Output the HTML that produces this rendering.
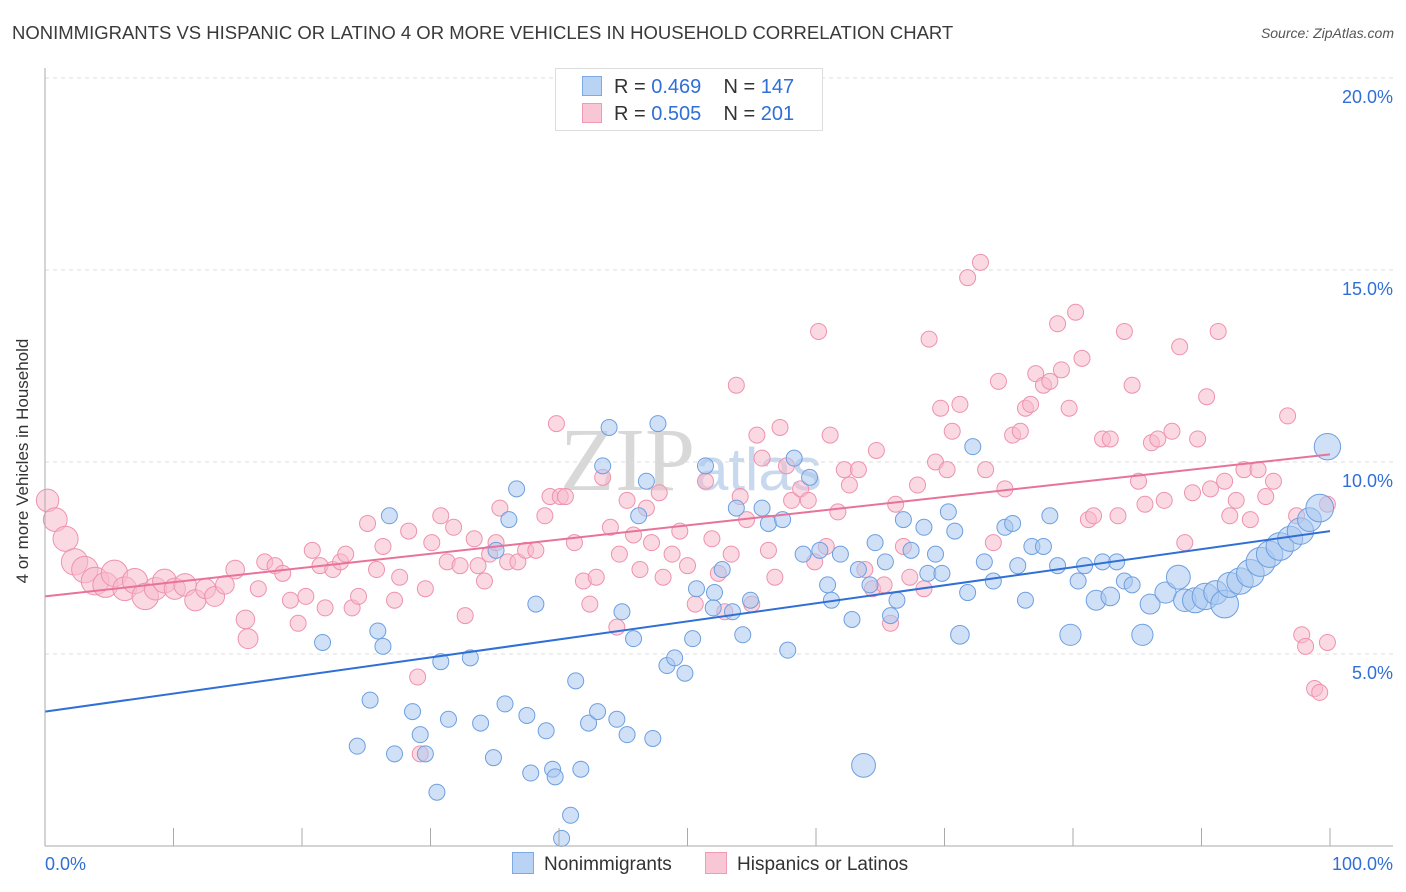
<!DOCTYPE html>
<html><head><meta charset="utf-8"><style>
html,body{margin:0;padding:0;background:#fff;}
body{width:1406px;height:892px;position:relative;overflow:hidden;font-family:"Liberation Sans",sans-serif;}
</style></head><body>
<div style="position:absolute;left:12px;top:22px;font-size:18.5px;color:#3a3a3a;white-space:nowrap;">NONIMMIGRANTS VS HISPANIC OR LATINO 4 OR MORE VEHICLES IN HOUSEHOLD CORRELATION CHART</div>
<div style="position:absolute;right:12px;top:25px;font-size:14px;font-style:italic;color:#555;">Source: ZipAtlas.com</div>
<svg id="chart" width="1406" height="892" style="position:absolute;left:0;top:0;">
<text x="560" y="490" font-size="90" fill="#d8d8d8" font-family="Liberation Serif,serif">ZIP<tspan font-family="Liberation Sans,sans-serif" font-size="60" fill="#c8d8ee">atlas</tspan></text>
<g id="grid"></g><g id="pts"></g><g id="lines"></g><g id="axes"></g>
<text x="22" y="455" transform="rotate(-90 28 455)" font-size="17" fill="#333" text-anchor="middle">4 or more Vehicles in Household</text>
</svg>
<div style="position:absolute;left:555px;top:68px;width:266px;height:61px;border:1px solid #ddd;background:#fff;font-size:20px;color:#333;">
 <div style="position:absolute;left:26px;top:7px;white-space:nowrap;"><span style="display:inline-block;width:18px;height:18px;background:#b9d3f5;border:1px solid #7fa9e3;vertical-align:-3px;margin-right:12px;"></span>R = <span style="color:#2f6fd6">0.469</span>&nbsp;&nbsp;&nbsp; N = <span style="color:#2f6fd6">147</span></div>
 <div style="position:absolute;left:26px;top:34px;white-space:nowrap;"><span style="display:inline-block;width:18px;height:18px;background:#f9c6d5;border:1px solid #f09ab3;vertical-align:-3px;margin-right:12px;"></span>R = <span style="color:#2f6fd6">0.505</span>&nbsp;&nbsp;&nbsp; N = <span style="color:#2f6fd6">201</span></div>
</div>
<div style="position:absolute;left:512px;top:852px;font-size:19px;color:#333;white-space:nowrap;">
 <span><span style="display:inline-block;width:20px;height:20px;background:#b9d3f5;border:1px solid #7fa9e3;vertical-align:-4px;margin-right:10px;"></span>Nonimmigrants</span>
 <span style="margin-left:28px;"><span style="display:inline-block;width:20px;height:20px;background:#f9c6d5;border:1px solid #f09ab3;vertical-align:-4px;margin-right:10px;"></span>Hispanics or Latinos</span>
</div>
<script>
const blueX=[26.8,36.7,36.1,35.1,38.2,21.6,25.9,26.3,25.3,24.3,28.6,27.2,29.6,29.2,31.4,30.8,33.1,33.9,34.9,35.8,37.5,37.8,39.0,39.5,39.7,41.7,41.3,42.3,43.0,44.5,45.3,47.3,40.9,40.2,30.5,44.9,45.8,43.4,43.9,46.8,47.7,46.2,48.4,49.0,49.8,50.4,50.7,51.4,52.1,52.0,52.7,53.5,54.3,54.9,53.8,55.8,56.3,57.4,58.3,57.8,59.0,59.5,60.3,60.9,61.2,61.9,62.8,63.3,64.2,64.6,65.4,65.8,66.3,66.8,67.4,68.4,68.7,69.3,69.8,70.3,70.8,71.2,72.2,71.8,73.1,73.8,74.7,75.3,75.7,76.3,76.8,77.7,78.2,78.8,79.8,80.4,80.9,81.8,82.3,82.9,83.4,84.0,84.6,85.4,86.0,87.2,88.2,88.7,89.5,90.3,91.1,91.8,92.2,93.0,93.8,94.6,95.3,96.1,96.9,97.7,98.4,99.2,99.8,63.7];
const blueY=[8.6,9.3,8.5,7.7,6.3,5.3,5.6,5.2,3.8,2.6,3.5,2.4,2.4,2.9,3.3,4.8,4.9,3.2,2.3,3.7,3.4,1.9,3.0,2.0,1.8,2.0,4.3,3.2,3.5,3.3,2.9,2.8,0.8,0.2,1.4,6.1,5.4,9.9,10.9,9.5,11.0,8.6,4.7,4.9,4.5,5.4,6.7,9.9,6.6,6.2,7.2,6.1,5.5,6.4,8.8,8.8,8.4,8.5,10.1,5.1,7.6,9.6,7.7,6.8,6.4,7.6,5.9,7.2,6.8,7.9,7.4,6.0,6.4,8.5,7.7,8.3,7.1,7.6,7.1,8.7,8.2,5.5,10.4,6.6,7.4,6.9,8.3,8.4,7.3,6.4,7.8,7.8,8.6,7.3,5.5,6.9,7.3,6.4,7.4,6.5,7.4,6.9,6.8,5.5,6.3,6.6,7.0,6.4,6.4,6.5,6.6,6.3,6.8,6.9,7.1,7.4,7.6,7.8,8.0,8.2,8.5,8.8,10.4,2.1];
const blueSize=[1,1,1,1,1,1,1,1,1,1,1,1,1,1,1,1,1,1,1,1,1,1,1,1,1,1,1,1,1,1,1,1,1,1,1,1,1,1,1,1,1,1,1,1,1,1,1,1,1,1,1,1,1,1,1,1,1,1,1,1,1,1,1,1,1,1,1,1,1,1,1,1,1,1,1,1,1,1,1,1,1,1.2,1,1,1,1,1,1,1,1,1,1,1,1,1.4,1,1,1.3,1,1.2,1,1,1,1.4,1.3,1.4,1.6,1.5,1.7,1.8,1.6,1.9,1.7,1.8,1.9,2,1.8,1.9,1.7,1.8,1.6,1.9,1.8,1.6];
const pinkX=[0.2,0.8,1.6,2.3,3.1,3.9,4.7,5.4,6.2,7.0,7.8,8.6,9.3,10.1,10.9,11.7,12.5,13.2,14.0,14.8,15.6,15.8,16.6,17.1,17.9,18.5,19.1,19.7,20.3,20.8,21.4,21.8,22.4,23.0,23.4,23.9,24.4,25.1,25.8,26.3,27.2,27.6,28.3,29.0,29.2,29.6,30.1,30.8,31.3,31.8,32.3,32.7,33.4,33.7,34.2,34.6,35.1,35.4,36.0,36.8,37.4,38.2,38.9,39.3,39.8,40.1,40.5,41.2,41.9,42.4,42.9,43.4,44.0,44.5,44.7,45.3,45.8,46.3,46.8,47.2,47.8,48.1,48.8,49.4,50.0,50.6,51.4,51.9,52.4,52.9,53.4,53.8,54.1,54.6,55.0,55.4,55.8,56.3,56.8,57.2,57.7,58.1,58.8,59.4,59.9,60.2,60.8,61.1,61.7,62.2,62.6,63.3,63.8,64.4,64.7,65.3,65.8,66.2,66.8,67.3,67.9,68.4,68.8,69.3,69.7,70.2,70.6,71.2,71.8,72.8,73.2,73.8,74.2,74.7,75.3,75.9,76.3,76.7,77.1,77.7,78.2,78.8,79.1,79.7,80.2,80.7,81.2,81.6,82.3,82.9,83.5,84.0,84.6,85.1,85.6,86.1,86.6,87.1,87.7,88.3,88.7,89.3,89.7,90.4,90.7,91.3,91.8,92.2,92.7,93.3,93.8,94.4,95.0,95.6,96.7,97.4,97.8,98.1,98.8,99.2,99.8,99.8];
const pinkY=[9.0,8.5,8.0,7.4,7.2,6.9,6.8,7.1,6.7,6.9,6.5,6.7,6.9,6.7,6.8,6.4,6.7,6.5,6.8,7.2,5.9,5.4,6.7,7.4,7.3,7.1,6.4,5.8,6.5,7.7,7.3,6.2,7.2,7.4,7.6,6.2,6.5,8.4,7.2,7.8,6.4,7.0,8.2,4.4,2.4,6.7,7.9,8.6,7.4,8.3,7.3,6.0,8.0,7.3,6.9,7.6,7.9,8.8,7.4,7.4,7.7,7.7,8.6,9.1,11.0,9.1,9.1,7.9,6.9,6.3,7.0,9.6,8.3,5.7,7.6,9.0,8.1,7.2,8.8,7.9,9.2,7.0,7.6,8.2,7.3,6.3,9.5,8.0,7.1,6.1,7.6,12.0,9.1,8.5,6.3,10.7,10.1,7.7,7.0,10.9,9.9,9.0,9.3,9.0,7.4,13.4,7.8,10.7,8.7,9.8,9.4,9.8,7.2,6.7,10.3,6.8,5.8,8.9,7.8,7.0,9.4,6.7,13.2,10.0,11.4,9.8,10.8,11.5,14.8,15.2,9.8,7.9,12.1,9.3,10.7,10.8,11.4,11.5,12.3,12.0,12.1,13.6,12.4,11.4,13.9,12.7,8.5,8.6,10.6,10.6,8.6,13.4,12.0,9.5,8.9,10.5,10.6,9.0,10.8,13.0,7.9,9.2,10.6,11.7,9.3,13.4,9.5,8.6,9.0,9.8,8.5,9.8,9.1,9.5,11.2,8.6,5.5,5.2,4.1,4.0,5.3,8.9];
const pinkSize=[1.5,1.6,1.7,1.8,1.8,1.9,1.7,1.8,1.6,1.7,1.8,1.5,1.6,1.4,1.5,1.4,1.3,1.3,1.2,1.2,1.2,1.3,1,1,1,1,1,1,1,1];
const blueLine=[3.5,8.2];
const pinkLine=[6.5,10.2];
const yTicks=[5,10,15,20];
const yTickLabels=["5.0%","10.0%","15.0%","20.0%"];
const xTicks=[0,10,20,30,40,50,60,70,80,90,100];

const NS="http://www.w3.org/2000/svg";
const X=v=>45+v*12.85;
const Y=v=>846-v*38.4;
function mk(tag,attrs,parent){const e=document.createElementNS(NS,tag);for(const k in attrs)e.setAttribute(k,attrs[k]);parent.appendChild(e);return e;}
const grid=document.getElementById('grid'),pts=document.getElementById('pts'),lines=document.getElementById('lines'),axes=document.getElementById('axes');
yTicks.forEach((t,i)=>{
 const l=mk('line',{x1:45,x2:1393,y1:Y(t),y2:Y(t),stroke:'#ddd','stroke-dasharray':'4,4'},grid);
 
 
 const tx=mk('text',{x:1393,y:Y(t)+25,'text-anchor':'end','font-size':18,fill:'#2f6fd6'},axes);
 tx.textContent=yTickLabels[i];
 
 
});
const tl=mk('line',{x1:45,x2:1393,y1:78,y2:78,stroke:'#ddd','stroke-dasharray':'4,4'},grid);


const ya=mk('line',{x1:45,x2:45,y1:68,y2:846,stroke:'#aaa'},axes);


const xa=mk('line',{x1:45,x2:1393,y1:846,y2:846,stroke:'#aaa'},axes);


xTicks.forEach(t=>{
 const k=mk('line',{x1:X(t),x2:X(t),y1:828,y2:846,stroke:'#aaa'},axes);
 
 
});
const xl0=mk('text',{x:45,y:870,'font-size':18,fill:'#2f6fd6'},axes);xl0.textContent='0.0%';


const xl1=mk('text',{x:1393,y:870,'font-size':18,fill:'#2f6fd6','text-anchor':'end'},axes);xl1.textContent='100.0%';


function drawSeries(xs,ys,sz,fill,stroke,name){
 xs.forEach((x,i)=>{
  const s=sz[i]||1;
  const c=mk('circle',{cx:X(x),cy:Y(ys[i]),r:8+(s-1)*6.5,fill:fill,'fill-opacity':0.55,stroke:stroke,'stroke-width':1},pts);
  
  
 });
}
drawSeries(pinkX,pinkY,pinkSize,'#f7b9cc','#ee92ae','point-hispanic');
drawSeries(blueX,blueY,blueSize,'#a9c8f0','#6d9fe0','point-nonimmigrant');
const bl=mk('line',{x1:X(0),y1:Y(blueLine[0]),x2:X(100),y2:Y(blueLine[1]),stroke:'#2f6fd6','stroke-width':2},lines);


const pl=mk('line',{x1:X(0),y1:Y(pinkLine[0]),x2:X(100),y2:Y(pinkLine[1]),stroke:'#e8739a','stroke-width':2},lines);


</script>
</body></html>
